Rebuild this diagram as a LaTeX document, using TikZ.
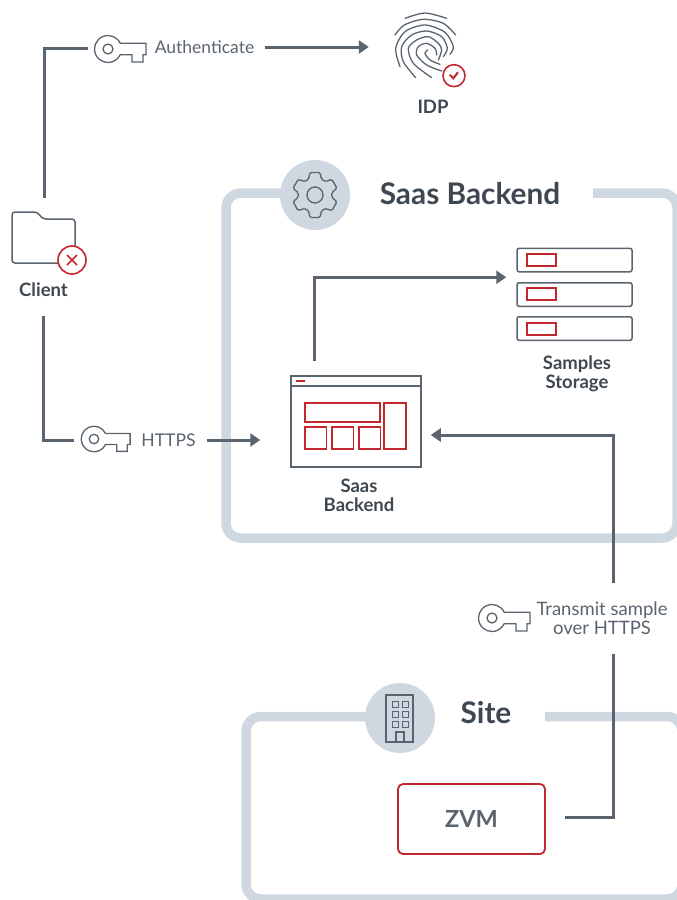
\documentclass[tikz,border=0pt]{standalone}
\usepackage{fontspec}
\setmainfont{Lato}
\usetikzlibrary{arrows.meta,calc}
\definecolor{slateline}{HTML}{5A646E}
\definecolor{frameblue}{HTML}{CFD8E0}
\definecolor{alertred}{HTML}{C1272D}
\definecolor{inkgray}{HTML}{3F4850}
\tikzset{
    x=1pt,y=1pt,
    flowline/.style={draw=slateline,line width=3pt},
    flowarrow/.style={flowline,-{Triangle[length=10pt,width=13pt]}},
    frameline/.style={draw=frameblue,line width=9.5pt,rounded corners=15pt},
    frameround/.style={fill=frameblue,circle,minimum size=70pt,inner sep=0pt},
    iconline/.style={draw=slateline,line width=1.3pt},
    redline/.style={draw=alertred,line width=1.6pt},
    flowtext/.style={text=slateline,font=\fontsize{17.5}{19}\selectfont,inner xsep=11pt,inner ysep=0pt,align=center},
    nametext/.style={text=inkgray,font=\fontsize{18.5}{19}\selectfont\bfseries,inner sep=0pt,align=center},
    titletext/.style={text=inkgray,font=\fontsize{29.8}{32}\selectfont\bfseries,inner sep=0pt},
    gapbox/.style={inner sep=0pt},
    storagerow/.style={iconline,line width=1.5pt,rounded corners=2pt,minimum width=115pt,minimum height=23.5pt,inner sep=0pt},
    keyicon/.pic={
        \draw[iconline] (25:13.5) arc (25:335:13.5) -- (24,-5.7) -- (24,-13) -- (35,-13) -- (35,-5.7) -- (38,-5.7) -- (38,5.7) -- cycle;
        \draw[iconline] (0,0) circle (5);
    }
}
\begin{document}
\begin{tikzpicture}
    \useasboundingbox (0,0) rectangle (677,-900);
    \clip (0,0) rectangle (677,-900);
    \draw[frameline] (593,-193) -- (677,-193) -- (677,-538) -- (226,-538) -- (226,-193) -- (315,-193);
    \draw[frameline] (545,-716.5) -- (682,-716.5) -- (682,-899) -- (246,-899) -- (246,-716.5) -- (400,-716.5);
    \node[frameround] (gearround) at (315,-195) {};
    \node[frameround] (siteround) at (400,-718) {};
    \node[titletext] (backendtitle) at (470,-194) {Saas Backend};
    \node[titletext] (sitetitle) at (486,-713) {Site};
    \draw[iconline,shift={(315,-195)},rounded corners=1.5pt] (68:17) \foreach \a in {90,150,...,390} { -- ({\a-22}:17) -- ({\a-13}:23) -- ({\a+13}:23) -- ({\a+22}:17)} -- cycle;
    \draw[iconline] (315,-195) circle (8);
    \draw[iconline] (386,-742) -- (386,-695) -- (413,-695) -- (413,-742) -- cycle;
    \draw[iconline] (396,-742) -- (396,-732) -- (404,-732) -- (404,-742);
    \foreach \wx in {392,402} {
        \foreach \wy in {701,711,721} {
            \draw[iconline,line width=1pt] (\wx,-\wy) rectangle +(6,-6);
        }
    }
    \node[gapbox,minimum width=64pt,minimum height=70pt] (clienticon) at (44,-233) {};
    \draw[iconline,line width=1.5pt,rounded corners=3pt] (12,-263) -- (12,-212) -- (37,-212) -- (43,-219) -- (75,-219) -- (75,-263) -- cycle;
    \draw[redline,fill=white] (72,-260) circle (14);
    \draw[redline] (67,-255) -- (77,-265) (67,-265) -- (77,-255);
    \node[nametext,minimum height=52pt] (clientname) at (43.5,-290) {Client};
    \begin{scope}[shift={(385,-5)},x=.3333pt,y=-.3333pt,line cap=round]
        \draw[iconline] plot[smooth] coordinates {(60,40) (120,24) (185,40)};
        \draw[iconline] plot[smooth] coordinates {(30,90) (58,60) (115,43) (175,55) (212,90)};
        \draw[iconline] plot[smooth] coordinates {(45,185) (32,130) (60,80) (120,60) (180,82) (205,125) (195,148)};
        \draw[iconline] plot[smooth] coordinates {(92,218) (55,170) (50,125) (80,90) (125,78) (170,95) (187,130) (175,155)};
        \draw[iconline] plot[smooth] coordinates {(140,218) (85,175) (70,130) (95,105) (130,95) (160,115) (170,135) (160,165)};
        \draw[iconline] plot[smooth] coordinates {(170,198) (125,180) (95,150) (100,125) (125,115) (150,130) (155,150)};
        \draw[iconline] plot[smooth] coordinates {(165,178) (135,165) (120,145) (128,135)};
        \draw[redline,fill=white] (207,212) circle (33);
        \draw[redline,line width=2pt] (195,210) -- (205,220) -- (218,203);
    \end{scope}
    \node[gapbox,minimum width=128pt,minimum height=60pt] (idpicon) at (433,-48) {};
    \node[nametext] (idpname) at (433,-107) {IDP};
    \node[gapbox,minimum width=66pt,minimum height=30pt] (keyauth) at (121,-48) {};
    \pic at (108,-49) {keyicon};
    \node[flowtext] (authtext) at (204.5,-47) {Authenticate};
    \node[gapbox,minimum width=58pt,minimum height=30pt] (keyhttps) at (103,-440) {};
    \pic[scale=.95] at (94,-439) {keyicon};
    \node[flowtext] (httpstext) at (168.5,-440) {HTTPS};
    \pic at (492,-618) {keyicon};
    \node[flowtext,font=\fontsize{18.5}{19}\selectfont,minimum height=70pt] (transmit) at (602,-618.5) {Transmit sample\\over HTTPS};
    \node[iconline,line width=1.5pt,minimum width=130pt,minimum height=91pt,inner sep=0pt] (backendwin) at (356,-421.5) {};
    \draw[iconline,line width=1.5pt] (291,-386) -- (421,-386);
    \draw[redline] (296,-381) -- (305,-381);
    \draw[redline] (305,-403) rectangle (380,-422);
    \draw[redline] (384,-403) rectangle (406,-449);
    \foreach \bx in {305,332,359} {
        \draw[redline] (\bx,-427) rectangle +(21.5,-22);
    }
    \node[nametext] (backendname) at (359,-495) {Saas\\Backend};
    \node[storagerow] (storagea) at (574.5,-260) {};
    \node[storagerow] (storageb) at (574.5,-294.5) {};
    \node[storagerow] (storagec) at (574.5,-328.5) {};
    \foreach \sy in {254,288,323} {
        \draw[redline] (527,-\sy) rectangle +(29,-12);
    }
    \node[nametext] (storagename) at (577,-373.5) {Samples\\Storage};
    \node[draw=alertred,line width=1.8pt,rounded corners=5pt,minimum width=147pt,minimum height=70pt,inner sep=0pt,text=slateline,font=\fontsize{23.5}{26}\selectfont\bfseries] (zvm) at (471.5,-819) {ZVM};
    \coordinate (storagein) at ($(storagea.west)!.5!(storageb.west)$);
    \draw[flowline] (clienticon.north) |- (keyauth.west);
    \draw[flowarrow] (authtext.east) -- (authtext.east -| idpicon.west);
    \draw[flowline] (clientname.south) |- (keyhttps.west);
    \draw[flowarrow,shorten >=30pt] (httpstext.east) -- (httpstext.east -| backendwin.west);
    \draw[flowarrow,shorten <=14pt,shorten >=10pt] ([xshift=-42pt]backendwin.north) |- (storagein);
    \draw[flowline,shorten <=19pt] ([yshift=2pt]zvm.east) -| ([xshift=11pt]transmit.south);
    \draw[flowarrow,shorten >=9pt] ([xshift=11pt]transmit.north) |- ([yshift=-13.5pt]backendwin.east);
\end{tikzpicture}
\end{document}
